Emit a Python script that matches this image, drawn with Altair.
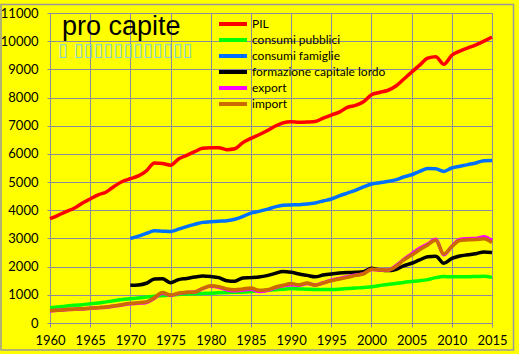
import altair as alt
import pandas as pd

years = list(range(1960, 2016))

pil = [3700, 3820, 3950, 4070, 4250, 4400, 4550, 4650, 4850, 5020,
       5120, 5220, 5400, 5680, 5660, 5600, 5820, 5950, 6080, 6200,
       6220, 6220, 6150, 6180, 6400, 6550, 6680, 6820, 6980, 7100,
       7140, 7120, 7130, 7150, 7270, 7380, 7480, 7650, 7720, 7850,
       8100, 8180, 8250, 8400, 8650, 8900, 9150, 9400, 9450, 9180,
       9500, 9650, 9760, 9870, 10000, 10150]

cons_pubb = [540, 570, 600, 630, 650, 680, 710, 750, 790, 830,
             860, 890, 920, 950, 970, 990, 1010, 1030, 1040, 1050,
             1060, 1070, 1080, 1090, 1100, 1120, 1140, 1160, 1180, 1200,
             1220, 1210, 1200, 1190, 1190, 1190, 1200, 1220, 1240, 1260,
             1290, 1330, 1370, 1400, 1440, 1470, 1500, 1540, 1610, 1650,
             1640, 1640, 1640, 1650, 1660, 1620]

cons_fam = [None] * 10 + [
    3000, 3080, 3180, 3270, 3260, 3250, 3330, 3420, 3500, 3570,
    3590, 3610, 3630, 3680, 3780, 3900, 3960, 4030, 4120, 4180,
    4190, 4200, 4220, 4260, 4330, 4400, 4510, 4610, 4710, 4830,
    4930, 4980, 5020, 5080, 5180, 5260, 5380, 5480, 5470, 5380,
    5500, 5560, 5620, 5680, 5760, 5770]

form_cap = [None] * 10 + [
    1340, 1350, 1410, 1560, 1570, 1430, 1540, 1580, 1630, 1670,
    1650, 1610, 1500, 1480, 1600, 1610, 1630, 1680, 1760, 1830,
    1800, 1740, 1690, 1640, 1700, 1740, 1770, 1790, 1800, 1820,
    1940, 1890, 1860, 1900, 2030, 2120, 2240, 2350, 2370, 2120,
    2290, 2380, 2420, 2460, 2520, 2500]

export = [430, 450, 470, 490, 500, 520, 540, 560, 600, 640,
          680, 700, 730, 880, 1060, 980, 1050, 1080, 1100, 1220,
          1300, 1270, 1180, 1140, 1170, 1200, 1120, 1150, 1250, 1320,
          1360, 1340, 1400, 1350, 1430, 1520, 1580, 1640, 1700, 1750,
          1900, 1880, 1870, 2020, 2250, 2450, 2650, 2800, 2970, 2420,
          2720, 2960, 2990, 3000, 3060, 2920]

imports = [440, 455, 475, 490, 505, 525, 545, 570, 610, 650,
           700, 720, 750, 900, 1080, 990, 1060, 1090, 1100, 1230,
           1320, 1290, 1210, 1180, 1210, 1240, 1160, 1180, 1270, 1340,
           1400, 1360, 1420, 1340, 1420, 1500, 1560, 1620, 1690, 1740,
           1910, 1890, 1880, 2000, 2230, 2410, 2600, 2770, 2940, 2450,
           2710, 2930, 2950, 2960, 2990, 2850]

series_names = ["PIL", "consumi pubblici", "consumi famiglie",
                "formazione capitale lordo", "export", "import"]
series_colors = ["#ff0000", "#00ff00", "#0070ff", "#000000", "#ff00ff", "#cc6a00"]
series_values = [pil, cons_pubb, cons_fam, form_cap, export, imports]

title_text = "pro capite"
tofu_text = "\u25af \u25af\u25af\u25af\u25af\u25af\u25af\u25af\u25af\u25af\u25af\u25af\u25af"

x_ticks = list(range(1960, 2016, 5))
y_ticks = list(range(0, 11001, 1000))

rows = []
for name, vals in zip(series_names, series_values):
    for yr, v in zip(years, vals):
        if v is not None:
            rows.append({"anno": yr, "valore": v, "serie": name,
                         "ordine": series_names.index(name)})
df = pd.DataFrame(rows)

FONT = "Lato"
GRID = "#8c8c9c"

lines = alt.Chart(df).mark_line(strokeWidth=3.5, interpolate="monotone").encode(
    x=alt.X("anno:Q",
            scale=alt.Scale(domain=[1960, 2015], nice=False, zero=False),
            axis=alt.Axis(values=x_ticks, format="d", title=None, grid=True,
                          gridColor=GRID, domainColor=GRID, tickColor=GRID,
                          tickSize=4, labelFontSize=13, labelFont=FONT,
                          labelColor="#000000", labelPadding=7,
                          labelOverlap=False, labelFlush=False)),
    y=alt.Y("valore:Q",
            scale=alt.Scale(domain=[0, 11000], nice=False),
            axis=alt.Axis(values=y_ticks, format="d", title=None, grid=True,
                          gridColor=GRID, domainColor=GRID, tickColor=GRID,
                          tickSize=3, labelFontSize=13, labelFont=FONT,
                          labelColor="#000000", labelPadding=9,
                          labelOverlap=False, labelFlush=False)),
    color=alt.Color("serie:N",
                    scale=alt.Scale(domain=series_names, range=series_colors),
                    legend=alt.Legend(orient="none", legendX=177, legendY=5,
                                      title=None, symbolType="M-3.5,0H3.5",
                                      symbolSize=64, symbolStrokeWidth=4,
                                      labelFontSize=12, labelFont=FONT,
                                      labelColor="#000000", rowPadding=0,
                                      labelOffset=13, symbolOffset=0,
                                      padding=0)),
    order=alt.Order("ordine:Q"),
    detail="serie:N",
)

title_layer = alt.Chart(pd.DataFrame({"t": [title_text]})).mark_text(
    font="Liberation Sans", fontSize=27, align="left", baseline="alphabetic",
    color="#000000"
).encode(text="t:N", x=alt.value(12), y=alt.value(22))

tofu_layer = alt.Chart(pd.DataFrame({"t": [tofu_text]})).mark_text(
    font="DejaVu Sans", fontSize=18, align="left", baseline="middle",
    color="#7fd0e0"
).encode(text="t:N", x=alt.value(8), y=alt.value(38))

frame = alt.Chart(pd.DataFrame({"a": [0]})).mark_rect(
    fill="transparent", stroke="#999999", strokeWidth=1.5
).encode(x=alt.value(-49), x2=alt.value(463.5), y=alt.value(-8.5), y2=alt.value(337))

chart = alt.layer(frame, lines, title_layer, tofu_layer).properties(
    width=442, height=310,
    background="#ffff00",
    padding={"left": 50, "top": 13, "right": 27, "bottom": 31},
    autosize=alt.AutoSizeParams(type="none"),
).configure_view(stroke=GRID, fill="#ffff00")

chart.save("out.html", embed_options={"renderer": "svg", "actions": False})
